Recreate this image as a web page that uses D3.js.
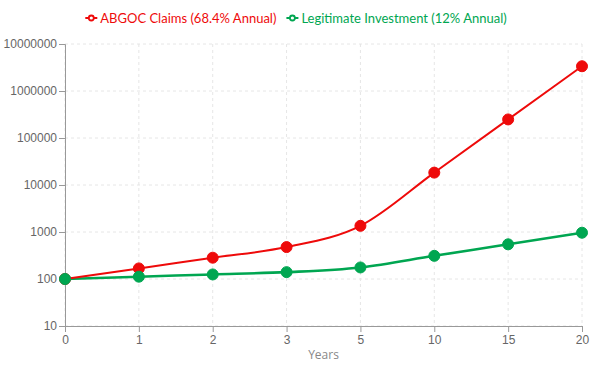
<!DOCTYPE html>
<html><head><meta charset="utf-8">
<script src="https://cdn.jsdelivr.net/npm/d3@7"></script>
<style>body{margin:0;background:#fff;}svg{display:block;font-family:"Open Sans","Noto Sans",sans-serif;}</style>
</head><body><svg id="c" width="600" height="365"></svg>
<script>
const years = ["0","1","2","3","5","10","15","20"];
const abgoc = [100, 168, 284, 478, 1354, 18340, 248400, 3364000];
const legit = [100, 112, 125, 140, 176, 311, 547, 965];
const yTicks = [10, 100, 1000, 10000, 100000, 1000000, 10000000];
const seriesNames = ["ABGOC Claims (68.4% Annual)", "Legitimate Investment (12% Annual)"];
const colors = ["#ee0a0a", "#00a651"];

const svg = d3.select("#c");
const m = {l:65, r:18, t:44, b:39};
const W = 600, H = 365;
const x = d3.scalePoint().domain(years).range([m.l, W - m.r]);
const y = d3.scaleLog().domain([10, 10000000]).range([H - m.b, m.t]);

// grid
const g = svg.append("g");
g.selectAll(".hg").data(yTicks).join("line")
  .attr("x1", m.l).attr("x2", W - m.r).attr("y1", d=>y(d)).attr("y2", d=>y(d))
  .attr("stroke", "#e6e6e6").attr("stroke-dasharray", "3 3");
g.selectAll(".vg").data(years).join("line")
  .attr("x1", d=>x(d)).attr("x2", d=>x(d)).attr("y1", m.t).attr("y2", H - m.b)
  .attr("stroke", "#e6e6e6").attr("stroke-dasharray", "3 3");

// axes
const xa = svg.append("g").attr("transform", `translate(0,${H - m.b})`)
  .call(d3.axisBottom(x).tickSize(6).tickPadding(3));
const ya = svg.append("g").attr("transform", `translate(${m.l},0)`)
  .call(d3.axisLeft(y).tickValues(yTicks).tickFormat(d3.format("d")).tickSize(6).tickPadding(2));
[xa, ya].forEach(a => {
  a.select(".domain").attr("stroke", "#999");
  a.selectAll(".tick line").attr("stroke", "#999");
  a.selectAll("text").attr("fill", "#666").style("font-size", "12px");
});
svg.append("text").attr("x", (m.l + W - m.r)/2).attr("y", 359).attr("text-anchor", "middle")
  .attr("fill", "#888").style("font-size", "12px").text("Years");

// lines
const line = d3.line().x((d,i)=>x(years[i])).y(d=>y(d)).curve(d3.curveMonotoneX);
[legit, abgoc].forEach((s, k) => {
  const ci = s === abgoc ? 0 : 1;
  svg.append("path").attr("d", line(s)).attr("fill", "none")
    .attr("stroke", colors[ci]).attr("stroke-width", ci === 0 ? 2 : 2.6);
});
[abgoc, legit].forEach((s, k) => {
  svg.append("g").selectAll("circle").data(s).join("circle")
    .attr("cx", (d,i)=>x(years[i])).attr("cy", d=>y(d)).attr("r", 5.5)
    .attr("fill", colors[k]).attr("stroke", colors[k]).attr("stroke-width", 1);
});

// legend
const lg = svg.append("g");
let cx = 0;
seriesNames.forEach((n, k) => {
  const it = lg.append("g");
  it.append("line").attr("x1", 0).attr("x2", 12).attr("y1", 0).attr("y2", 0)
    .attr("stroke", colors[k]).attr("stroke-width", 2);
  it.append("circle").attr("cx", 6).attr("cy", 0).attr("r", 2.5).attr("fill", "#fff")
    .attr("stroke", colors[k]).attr("stroke-width", 1.8);
  const t = it.append("text").attr("x", 15).attr("y", 5).attr("fill", colors[k])
    .style("font-family", "Lato, 'Open Sans', sans-serif").style("font-size", "13px").text(n);
  const w = 15 + t.node().getComputedTextLength();
  it.attr("transform", `translate(${cx},18)`);
  cx += w + 10;
});
const total = cx - 10;
lg.attr("transform", `translate(${(600 - total)/2 - 4},0)`);
</script></body></html>
